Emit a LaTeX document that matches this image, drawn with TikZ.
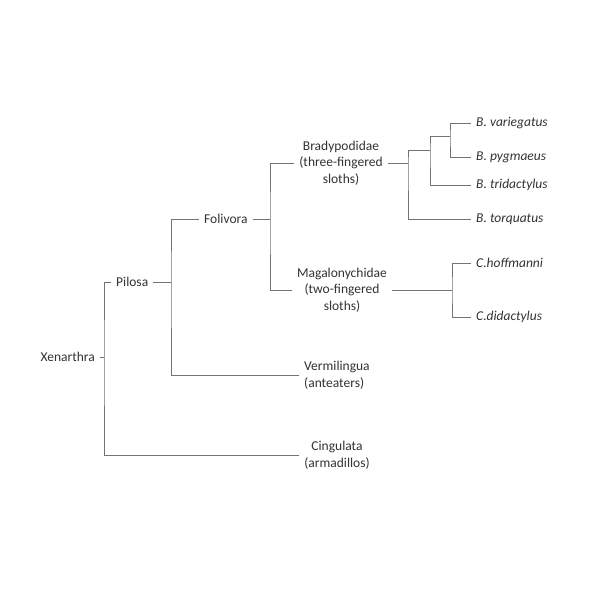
\documentclass[tikz,border=0pt]{standalone}
\usepackage{fontspec}
\setmainfont{Carlito}
\usetikzlibrary{calc}
\tikzset{
  taxon/.style={inner sep=5pt,text=black!80,font=\fontsize{13.5}{16.5}\selectfont},
  species/.style={taxon,anchor=west,font=\fontsize{13.5}{16.5}\selectfont\itshape},
  branch/.style={draw=black!55,line width=0.9pt}
}
\begin{document}
\begin{tikzpicture}[x=1pt,y=-1pt]
  \useasboundingbox[fill=white] (0,0) rectangle (601,601);
  % labels
  \node[taxon,anchor=east] (xen) at (100,357) {Xenarthra};
  \node[taxon,anchor=west] (pil) at (111,282) {Pilosa};
  \node[taxon,anchor=west] (fol) at (199,219) {Folivora};
  \node[taxon,align=center] (brad) at (341,163) {Bradypodidae\\(three-fingered\\sloths)};
  \node[taxon,align=center] (mag) at (342,290) {Magalonychidae\\(two-fingered\\sloths)};
  \node[taxon,align=left,anchor=west] (verm) at (299,375) {Vermilingua\\(anteaters)};
  \node[taxon,align=center] (cing) at (337,455) {Cingulata\\(armadillos)};
  \node[species] (bvar) at (471,123) {B. variegatus};
  \node[species] (bpyg) at (471,157) {B. pygmaeus};
  \node[species] (btri) at (471,185) {B. tridactylus};
  \node[species] (btor) at (471,219) {B. torquatus};
  \node[species] (choff) at (471,263) {C.hoffmanni};
  \node[species] (cdid) at (471,317) {C.didactylus};
  % junctions
  \coordinate (jxen) at (104,357);
  \coordinate (jpil) at (171,282);
  \coordinate (jfol) at (270,219);
  \coordinate (jbra) at (408,163);
  \coordinate (jbtt) at (430,150);
  \coordinate (jbvp) at (450,136);
  \coordinate (jmag) at (452,290);
  % branches
  \draw[branch] (xen.east) -- (jxen);
  \draw[branch] (pil.west) -| (jxen) |- (cing.west);
  \draw[branch] (pil.east) -- (jpil);
  \draw[branch] (fol.west) -| (jpil) |- (verm.west);
  \draw[branch] (fol.east) -- (jfol);
  \draw[branch] (brad.west) -| (jfol) |- (mag.west);
  \draw[branch] (brad.east) -- (jbra);
  \draw[branch] (jbtt) -| (jbra) |- (btor.west);
  \draw[branch] (jbvp) -| (jbtt) |- (btri.west);
  \draw[branch] (bvar.west) -| (jbvp) |- (bpyg.west);
  \draw[branch] (mag.east) -- (jmag);
  \draw[branch] (choff.west) -| (jmag) |- (cdid.west);
\end{tikzpicture}
\end{document}
